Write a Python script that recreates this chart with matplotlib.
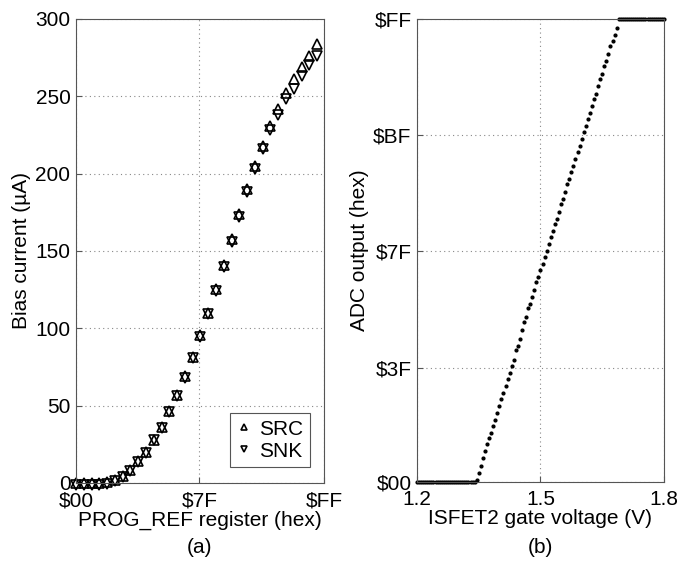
import numpy as np
import matplotlib.pyplot as plt

plt.rcParams['font.family'] = ['Liberation Sans', 'DejaVu Sans']
plt.rcParams['font.size'] = 15

# (a) bias current vs PROG_REF register
reg = [0, 8, 16, 24, 32, 40, 48, 56, 64, 72, 80, 88, 96, 104, 112, 120,
       128, 136, 144, 152, 160, 168, 176, 184, 192, 200, 208, 216, 224, 232, 240, 248]
src = [0, 0, 0, 0, 0.5, 2, 4.5, 8.5, 14, 20, 28, 36, 46.5, 57, 69, 81.5,
       95.5, 110, 125.5, 141, 157.5, 174, 190, 205, 218, 230.5, 241.5, 252, 261, 269, 276, 284]
snk = [-1, -1, -1, -1, -0.5, 1.5, 4, 8, 13.5, 19.5, 27.5, 35.5, 46, 56.5, 68, 80.5,
       94.5, 109, 124, 139.5, 156, 172, 188, 203, 216, 228, 238, 248, 255, 263, 270, 276]

# (b) ADC output vs ISFET2 gate voltage (5 mV steps)
volts = np.round(np.arange(1.200, 1.8001, 0.005), 3)
adc_zero = [0] * 29 + [1]
adc_ramp = [5, 9, 13, 17, 21, 24, 27, 31, 34, 38, 42, 46, 49, 53, 57, 60, 64, 67,
            73, 75, 79, 84, 88, 91, 96, 98, 102, 106, 110, 113, 117, 120, 124, 127,
            131, 135, 138, 142, 145, 149, 153, 156, 160, 164, 167, 171, 174, 178,
            182, 185, 189, 193, 196, 200, 203, 207, 211, 214, 218, 222, 225, 229,
            232, 236, 240, 243, 246, 250]
adc_sat = [255] * 23
adc = adc_zero + adc_ramp + adc_sat

fig = plt.figure(figsize=(6.87, 5.78), dpi=100)
ax1 = fig.add_axes([0.1106, 0.1644, 0.361, 0.8028])
ax2 = fig.add_axes([0.607, 0.166, 0.3595, 0.801])

for ax in (ax1, ax2):
    ax.tick_params(direction='in', length=4, color='#555555', pad=4)
    ax.tick_params(axis='x', pad=6)
    for s in ax.spines.values():
        s.set_color('#555555')
        s.set_linewidth(0.8)
    ax.grid(True, linestyle=(0, (1, 3)), color='#888888', linewidth=0.8)

ax1.plot(reg, src, linestyle='none', marker='^', ms=7.5, mfc='none', mec='black', mew=1.2,
         label='SRC', clip_on=False)
ax1.plot(reg, snk, linestyle='none', marker='v', ms=7.5, mfc='none', mec='black', mew=1.2,
         label='SNK', clip_on=False)
ax1.set_xlim(0, 255)
ax1.set_ylim(0, 300)
ax1.set_xticks([0, 127, 255])
ax1.set_xticklabels(['$00', '$7F', '$FF'])
ax1.set_yticks([0, 50, 100, 150, 200, 250, 300])
ax1.set_xlabel('PROG_REF register (hex)', labelpad=0)
ax1.set_ylabel('Bias current (\u00b5A)', labelpad=3)
leg = ax1.legend(loc='lower right', markerscale=0.6, handlelength=0.7, handletextpad=0.4,
                 borderpad=0.3, labelspacing=0.15, fancybox=False, framealpha=1,
                 bbox_to_anchor=(0.985, 0.012))
leg.get_frame().set_edgecolor('#555555')
leg.get_frame().set_linewidth(0.8)

ax2.plot(volts, adc, linestyle='none', marker='o', ms=2, color='black', clip_on=False)
ax2.set_xlim(1.2, 1.8)
ax2.set_ylim(0, 255)
ax2.set_xticks([1.2, 1.5, 1.8])
ax2.set_yticks([0, 63, 127, 191, 255])
ax2.set_yticklabels(['$00', '$3F', '$7F', '$BF', '$FF'])
ax2.set_xlabel('ISFET2 gate voltage (V)', labelpad=0)
ax2.set_ylabel('ADC output (hex)', labelpad=3)

fig.text(0.291, 0.052, '(a)', ha='center', va='center')
fig.text(0.786, 0.052, '(b)', ha='center', va='center')

fig.savefig('out.png', dpi=100)
